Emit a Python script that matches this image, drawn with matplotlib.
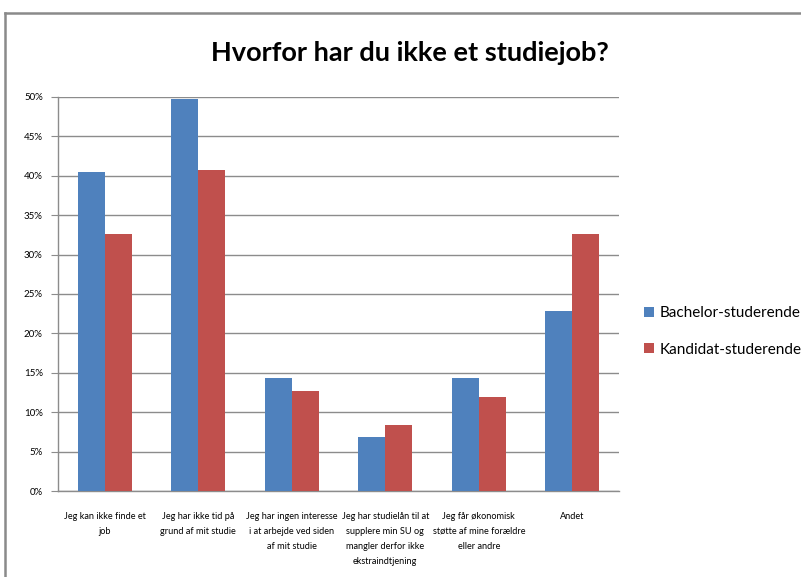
import numpy as np
import matplotlib
matplotlib.use("Agg")
import matplotlib.pyplot as plt
from matplotlib.lines import Line2D

# ---------------- DATA ---------------- #
categories = [
    "Jeg kan ikke finde et\njob",
    "Jeg har ikke tid på\ngrund af mit studie",
    "Jeg har ingen interesse\ni at arbejde ved siden\naf mit studie",
    "Jeg har studielån til at\nsupplere min SU og\nmangler derfor ikke\nekstraindtjening",
    "Jeg får økonomisk\nstøtte af mine forældre\neller andre",
    "Andet",
]
bachelor = [40.5, 49.7, 14.3, 6.9, 14.3, 22.8]
kandidat = [32.6, 40.7, 12.7, 8.4, 11.9, 32.6]
series_names = ["Bachelor-studerende", "Kandidat-studerende"]
y_ticks = [0, 5, 10, 15, 20, 25, 30, 35, 40, 45, 50]

font = ["Lato", "DejaVu Sans"]
blue = "#4F81BD"
red = "#C0504D"
grid_col = "#8C8C8C"

# ---------------- PLOT ---------------- #
fig = plt.figure(figsize=(8.01, 5.77), dpi=100)
ax = fig.add_axes([0.0724, 0.149, 0.7004, 0.683])

x = np.arange(len(categories))
w = 0.29
ax.bar(x - w / 2, bachelor, w, color=blue, label=series_names[0], zorder=3)
ax.bar(x + w / 2, kandidat, w, color=red, label=series_names[1], zorder=3)

ax.set_xlim(-0.5, len(categories) - 0.5)
ax.set_ylim(0, 50)
ax.set_yticks(y_ticks)
ax.set_yticklabels([f"{t}%" for t in y_ticks], fontfamily=font, fontsize=7)
ax.set_xticks(x)
ax.set_xticklabels(categories, fontfamily=font, fontsize=6.6, linespacing=1.85,
                   va="top")
ax.tick_params(axis="y", length=5, color=grid_col, pad=6)
ax.tick_params(axis="x", length=0, pad=15)
ax.yaxis.grid(True, color=grid_col, linewidth=1, zorder=0)

for side in ["top", "right"]:
    ax.spines[side].set_visible(False)
for side in ["left", "bottom"]:
    ax.spines[side].set_color(grid_col)
    ax.spines[side].set_linewidth(1)

# title
fig.text(0.512, 0.908, "Hvorfor har du ikke et studiejob?", ha="center", va="center",
         fontsize=19.5, fontweight="bold", fontfamily=font)

# legend
leg = fig.legend(loc="center left", bbox_to_anchor=(0.804, 0.4255), frameon=False,
                 prop={"family": font, "size": 11}, handlelength=0.65,
                 handleheight=0.65, handletextpad=0.35, labelspacing=1.45,
                 borderaxespad=0, borderpad=0)

# chart border (top and left edges of the original chart frame)
fig.add_artist(Line2D([0.006, 0.006], [0, 0.977], color="#8A8A8A", linewidth=1.8,
                      transform=fig.transFigure))
fig.add_artist(Line2D([0.006, 1.0], [0.977, 0.977], color="#8A8A8A", linewidth=1.8,
                      transform=fig.transFigure))

fig.savefig("out.png", dpi=100)
